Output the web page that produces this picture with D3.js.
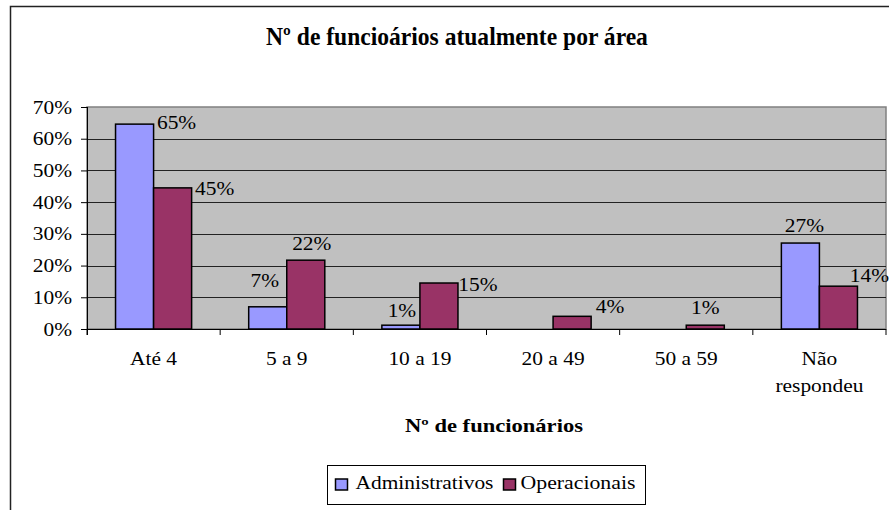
<!DOCTYPE html>
<html>
  <head>
    <meta charset="utf-8">
    <title>Nº de funcioários atualmente por área</title>
    <script src="https://d3js.org/d3.v7.min.js"></script>
    <style>
      body { margin: 0; background: white; }
      svg { display: block; }
      .bar { stroke: #000; stroke-width: 1.5px; }
      .grid line { stroke: #222; stroke-width: 1px; }
      .axis path, .axis line { stroke: #000; stroke-width: 1px; }
    </style>
  </head>
  <body>
    <svg></svg>
    <script>
      // data
      var categories = ["Até 4", "5 a 9", "10 a 19", "20 a 49", "50 a 59", "Não\nrespondeu"];
      var seriesNames = ["Administrativos", "Operacionais"];
      var administrativos = [64.6, 7.0, 1.2, 0, 0, 27.1];
      var operacionais = [44.5, 21.7, 14.5, 4.0, 1.2, 13.5];
      var yTicks = [0, 10, 20, 30, 40, 50, 60, 70];

      // layout config.
      var svgWidth = 889,
          svgHeight = 510,
          plot = {left: 87, right: 886, top: 107, bottom: 329},
          colors = ["#9999FF", "#993366"],
          font = "'Liberation Serif'",
          stretch = 1.19;

      // hand-placed data labels, [dx, dy] of label centre from bar centre / bar top
      var labelOffsets = [
        [[42, -1], [-3, -26], [1, -14], null, null, [4, -17]],
        [[42, 1], [6, -16], [39, 2], [38, -9], [0, -17], [31, -10]]
      ];

      var series = [administrativos, operacionais];

      var svg = d3.select("svg")
        .attr("width", svgWidth)
        .attr("height", svgHeight);

      // adds a text at (x, y), widened by sx (or to a fixed width)
      function addText(parent, str, x, y, size, opts) {
        opts = opts || {};
        var t = parent.append("text")
          .style("font-family", font)
          .style("font-size", size + "px")
          .style("font-weight", opts.bold ? "bold" : "normal")
          .attr("fill", "#000")
          .attr("text-anchor", opts.anchor || "middle")
          .text(str);
        var sx = opts.sx || stretch;
        if (opts.width) sx = opts.width / t.node().getComputedTextLength();
        t.attr("transform", "translate(" + x + "," + y + ") scale(" + sx + ",1)");
        return t;
      }

      // chart area frame
      svg.append("rect")
        .attr("x", 10.5).attr("y", 6.5)
        .attr("width", 900).attr("height", 520)
        .attr("fill", "white")
        .attr("stroke", "#222")
        .attr("stroke-width", 1.5);

      var x0 = d3.scaleBand().domain(d3.range(categories.length)).range([plot.left, plot.right]);
      var x1 = d3.scaleBand().domain(d3.range(series.length)).range([0, x0.bandwidth()])
        .paddingInner(0).paddingOuter(0.75);
      var y = d3.scaleLinear().domain([0, 70]).range([plot.bottom, plot.top]);

      // plot area
      svg.append("rect")
        .attr("x", plot.left).attr("y", plot.top)
        .attr("width", plot.right - plot.left).attr("height", plot.bottom - plot.top)
        .attr("fill", "#C0C0C0")
        .attr("stroke", "#808080")
        .attr("stroke-width", 1.5);

      svg.append("g")
        .classed("grid", true)
        .selectAll("line")
        .data(yTicks.filter(function(d){ return d > 0 && d < 70; }))
        .enter().append("line")
          .attr("x1", plot.left).attr("x2", plot.right)
          .attr("y1", function(d){ return Math.round(y(d)) + 0.5; })
          .attr("y2", function(d){ return Math.round(y(d)) + 0.5; });

      // bars
      series.forEach(function(values, s) {
        svg.append("g")
          .selectAll("rect")
          .data(values)
          .enter().append("rect")
            .classed("bar", true)
            .attr("x", function(d, i){ return x0(i) + x1(s); })
            .attr("width", x1.bandwidth())
            .attr("y", function(d){ return y(d); })
            .attr("height", function(d){ return y(0) - y(d); })
            .attr("fill", colors[s])
            .style("display", function(d){ return d > 0 ? null : "none"; });
      });

      // y axis
      var yAxis = svg.append("g")
        .classed("axis", true)
        .attr("transform", "translate(" + plot.left + ",0)")
        .call(d3.axisLeft(y).tickValues(yTicks).tickSize(6).tickSizeOuter(0)
          .tickFormat(function(d){ return d + "%"; }));
      yAxis.select(".domain").attr("d", "M0.5," + plot.top + "V" + (plot.bottom + 6));
      yAxis.selectAll(".tick text").remove();
      yAxis.selectAll(".tick").each(function(d) {
        addText(d3.select(this), d + "%", -15, 6, 18, {anchor: "end"});
      });

      // x axis
      var boundaries = d3.range(categories.length + 1).map(function(i){ return plot.left + i * x0.bandwidth(); });
      var xAxis = svg.append("g").classed("axis", true);
      xAxis.append("line")
        .attr("x1", plot.left).attr("x2", plot.right)
        .attr("y1", plot.bottom + 0.5).attr("y2", plot.bottom + 0.5);
      xAxis.selectAll("line.tick")
        .data(boundaries)
        .enter().append("line")
          .classed("tick", true)
          .attr("x1", function(d){ return d; }).attr("x2", function(d){ return d; })
          .attr("y1", plot.bottom).attr("y2", plot.bottom + 6);

      var xLabels = svg.append("g");
      categories.forEach(function(c, i) {
        c.split("\n").forEach(function(line, k) {
          addText(xLabels, line, x0(i) + x0.bandwidth() / 2, 365 + k * 27, 18);
        });
      });

      // data labels
      series.forEach(function(values, s) {
        var labels = svg.append("g");
        values.forEach(function(v, i) {
          var off = labelOffsets[s][i];
          if (!off) return;
          addText(labels, Math.round(v) + "%",
            x0(i) + x1(s) + x1.bandwidth() / 2 + off[0], y(v) + off[1] + 6, 18);
        });
      });

      // titles
      addText(svg, "Nº de funcioários atualmente por área", 457, 45, 25, {bold: true, width: 382});
      addText(svg, "Nº de funcionários", 494, 432, 18, {bold: true, width: 178});

      // legend
      var legend = svg.append("g").attr("transform", "translate(327.5,465.5)");
      legend.append("rect")
        .attr("width", 318).attr("height", 39)
        .attr("fill", "white").attr("stroke", "#000").attr("stroke-width", 1);
      var legendItems = [
        {swatch: 8, text: 28, width: 138},
        {swatch: 176, text: 193, width: 115}
      ];
      seriesNames.forEach(function(name, s) {
        legend.append("rect")
          .attr("x", legendItems[s].swatch).attr("y", 13.5)
          .attr("width", 12).attr("height", 11)
          .attr("fill", colors[s]).attr("stroke", "#000").attr("stroke-width", 1.5);
        addText(legend, name, legendItems[s].text, 23, 19, {anchor: "start", width: legendItems[s].width});
      });
    </script>
  </body>
</html>
